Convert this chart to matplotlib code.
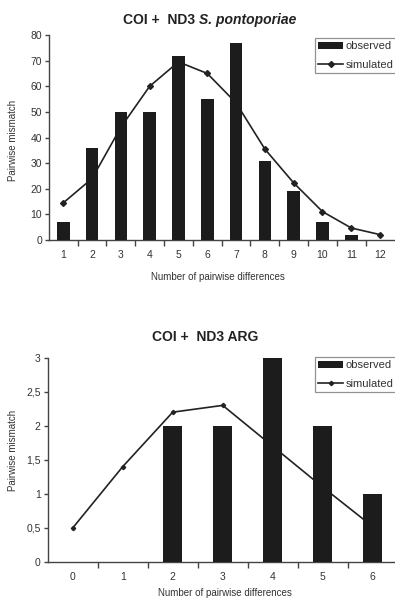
import numpy as np
import matplotlib
matplotlib.use("Agg")
import matplotlib.pyplot as plt

plt.rcParams["font.family"] = ["Liberation Sans", "DejaVu Sans"]

TXT = "#333333"
BAR = "#1c1c1c"

# --- COI + ND3 S. pontoporiae ---
top_diffs = [1, 2, 3, 4, 5, 6, 7, 8, 9, 10, 11, 12]
top_observed = [7, 36, 50, 50, 72, 55, 77, 31, 19, 7, 2, 0]
top_simulated = [14.5, 24, 44, 60, 69.5, 65, 53.5, 35.5, 22.3, 11.1, 4.7, 2.1]
top_yticks = [0, 10, 20, 30, 40, 50, 60, 70, 80]

# --- COI + ND3 ARG ---
arg_diffs = [0, 1, 2, 3, 4, 5, 6]
arg_observed = [0, 0, 2, 2, 3, 2, 1]
arg_simulated = [0.5, 1.4, 2.2, 2.3, 1.7, 1.1, 0.52]
arg_yticks = [0, 0.5, 1, 1.5, 2, 2.5, 3]
arg_ytick_labels = ["0", "0,5", "1", "1,5", "2", "2,5", "3"]

W, H = 395, 599
fig = plt.figure(figsize=(W / 100, H / 100), dpi=100)


def px_axes(x0, x1, y_top, y_bot):
    return fig.add_axes([x0 / W, 1 - y_bot / H, (x1 - x0) / W, (y_bot - y_top) / H])


def style(ax, cats, yticks, ylabels=None):
    ax.set_xlim(cats[0] - 0.5, cats[-1] + 0.5)
    for s in ("top", "right"):
        ax.spines[s].set_visible(False)
    for s in ("left", "bottom"):
        ax.spines[s].set_color("#444444")
        ax.spines[s].set_linewidth(1.0)
    ax.set_xticks(cats)
    ax.set_xticklabels([str(c) for c in cats])
    ax.set_xticks(np.array(cats[:-1]) + 0.5, minor=True)
    ax.tick_params(axis="x", which="major", length=0, pad=7, labelsize=7.5,
                   labelcolor=TXT)
    ax.tick_params(axis="x", which="minor", length=4, width=1.0,
                   direction="out", color="#444444")
    ax.set_yticks(yticks)
    if ylabels is not None:
        ax.set_yticklabels(ylabels)
    ax.tick_params(axis="y", length=3, width=1.0, direction="out", pad=2,
                   labelsize=7.5, labelcolor=TXT, color="#444444")
    ax.patch.set_alpha(0)


def legend(ax, handles, x, y):
    leg = ax.legend(handles=handles, loc="upper left",
                    bbox_to_anchor=(x / W, 1 - y / H),
                    bbox_transform=fig.transFigure, fontsize=8,
                    frameon=True, fancybox=False, borderpad=0.3,
                    labelspacing=0.75, handlelength=2.2, handleheight=0.5,
                    handletextpad=0.25, borderaxespad=0)
    leg.get_frame().set_edgecolor("#777777")
    leg.get_frame().set_linewidth(0.9)
    for t in leg.get_texts():
        t.set_color(TXT)


# top panel
ax1 = px_axes(48.9, 394.4, 35, 240)
b1 = ax1.bar(top_diffs, top_observed, width=0.44, color=BAR, zorder=3,
             label="observed")
l1, = ax1.plot(top_diffs, top_simulated, color="#222222", lw=1.2, marker="D",
               ms=3, zorder=2, label="simulated")
ax1.set_ylim(0, 80)
style(ax1, top_diffs, top_yticks)
legend(ax1, [b1, l1], 315, 38)

fig.text(0.494, 1 - 20 / H, "COI +  ND3", ha="right", va="center",
         fontsize=10, fontweight="bold", color="#222222")
fig.text(0.505, 1 - 20 / H, "S. pontoporiae", ha="left", va="center",
         fontsize=10, fontweight="bold", style="italic", color="#222222")
fig.text(218 / W, 1 - 277 / H, "Number of pairwise differences",
         ha="center", va="center", fontsize=7, color=TXT)
fig.text(13 / W, 1 - 140 / H, "Pairwise mismatch", ha="center",
         va="center", rotation=90, fontsize=7, color=TXT)

# bottom panel
ax2 = px_axes(47.7, 397.7, 357.7, 562)
b2 = ax2.bar(arg_diffs, arg_observed, width=0.39, color=BAR, zorder=3,
             label="observed")
l2, = ax2.plot(arg_diffs, arg_simulated, color="#222222", lw=1.2, marker="D",
               ms=2.2, zorder=2, label="simulated")
ax2.set_ylim(0, 3)
style(ax2, arg_diffs, arg_yticks, arg_ytick_labels)
legend(ax2, [b2, l2], 315, 357)

fig.text(205.5 / W, 1 - 337 / H, "COI +  ND3 ARG", ha="center", va="center",
         fontsize=10, fontweight="bold", color="#222222")
fig.text(225 / W, 1 - 593 / H, "Number of pairwise differences",
         ha="center", va="center", fontsize=7, color=TXT)
fig.text(13 / W, 1 - 450 / H, "Pairwise mismatch", ha="center",
         va="center", rotation=90, fontsize=7, color=TXT)

fig.savefig("out.png", dpi=100)
